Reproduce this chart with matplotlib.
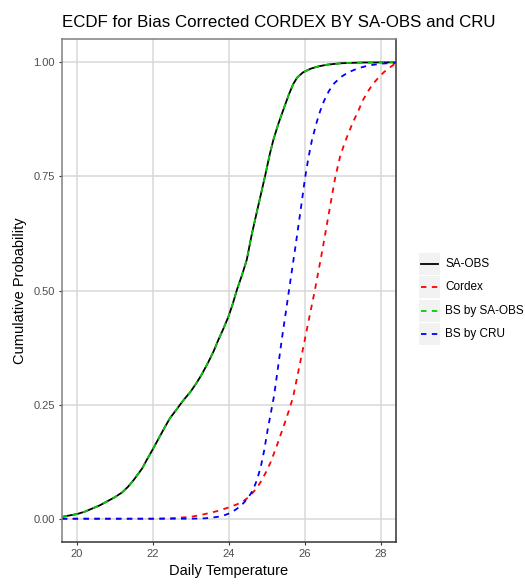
import matplotlib
matplotlib.use("Agg")
import matplotlib.pyplot as plt
from matplotlib.lines import Line2D
from matplotlib.patches import Rectangle

plt.rcParams['font.family'] = ['Liberation Sans', 'DejaVu Sans']

# data (daily temperature vs cumulative probability)
sa_obs_x = [19.61, 19.8, 20.0, 20.2, 20.4, 20.6, 20.8, 21.0, 21.2, 21.35,
            21.5, 21.72, 21.85, 22.0, 22.15, 22.3, 22.45, 22.64, 22.8, 23.0,
            23.17, 23.3, 23.46, 23.6, 23.72, 23.85, 23.99, 24.1, 24.21,
            24.35, 24.47, 24.6, 24.73, 24.84, 24.95, 25.08, 25.17, 25.3,
            25.45, 25.58, 25.69, 25.8, 25.95, 26.15, 26.35, 26.6, 26.96,
            27.5, 28.39]
sa_obs_p = [0.004, 0.007, 0.010, 0.015, 0.022, 0.029, 0.038, 0.047, 0.058,
            0.070, 0.085, 0.110, 0.130, 0.152, 0.175, 0.198, 0.220, 0.241,
            0.259, 0.279, 0.300, 0.318, 0.343, 0.367, 0.391, 0.415, 0.443,
            0.470, 0.501, 0.535, 0.567, 0.622, 0.670, 0.710, 0.750, 0.800,
            0.830, 0.865, 0.900, 0.930, 0.952, 0.967, 0.978, 0.986, 0.991,
            0.995, 0.998, 0.9995, 1.0]

# bias corrected by SA-OBS sits right on top of the observations
bs_sa_obs_x = list(sa_obs_x)
bs_sa_obs_p = list(sa_obs_p)

cordex_x = [19.61, 22.0, 22.5, 22.99, 23.25, 23.52, 23.75, 23.97, 24.2,
            24.37, 24.5, 24.63, 24.74, 24.84, 24.97, 25.1, 25.24, 25.37,
            25.5, 25.61, 25.69, 25.82, 25.96, 26.1, 26.26, 26.44, 26.61,
            26.79, 26.92, 27.03, 27.14, 27.27, 27.4, 27.53, 27.67, 27.8,
            27.94, 28.07, 28.2, 28.39]
cordex_p = [0.0, 0.0, 0.001, 0.004, 0.008, 0.013, 0.018, 0.024, 0.031,
            0.038, 0.046, 0.057, 0.068, 0.081, 0.101, 0.124, 0.155, 0.186,
            0.217, 0.245, 0.267, 0.320, 0.377, 0.435, 0.500, 0.580, 0.660,
            0.745, 0.792, 0.820, 0.844, 0.870, 0.893, 0.918, 0.938, 0.954,
            0.967, 0.978, 0.987, 0.998]

bs_cru_x = [19.61, 23.0, 23.4, 23.7, 23.9, 24.05, 24.2, 24.37, 24.5, 24.63,
            24.74, 24.84, 24.93, 25.02, 25.1, 25.19, 25.29, 25.39, 25.49,
            25.58, 25.66, 25.74, 25.82, 25.91, 26.0, 26.09, 26.18, 26.3,
            26.4, 26.5, 26.63, 26.77, 26.95, 27.14, 27.4, 27.67, 28.0, 28.39]
bs_cru_p = [0.0, 0.0, 0.001, 0.004, 0.008, 0.013, 0.021, 0.033, 0.045,
            0.062, 0.085, 0.114, 0.150, 0.195, 0.230, 0.270, 0.330, 0.392,
            0.448, 0.500, 0.545, 0.590, 0.637, 0.690, 0.745, 0.790, 0.828,
            0.866, 0.893, 0.915, 0.937, 0.954, 0.968, 0.978, 0.987, 0.993,
            0.997, 0.999]

series_labels = ['SA-OBS', 'Cordex', 'BS by SA-OBS', 'BS by CRU']
series_colors = ['black', '#FF0000', '#00CD00', '#0000FF']
series_styles = ['-', (0, (3, 3)), (0, (3, 3)), (0, (3, 3))]
series_x = [sa_obs_x, cordex_x, bs_sa_obs_x, bs_cru_x]
series_p = [sa_obs_p, cordex_p, bs_sa_obs_p, bs_cru_p]

x_ticks = [20, 22, 24, 26, 28]
y_ticks = [0.0, 0.25, 0.5, 0.75, 1.0]

W, H = 525, 584
fig = plt.figure(figsize=(W / 100, H / 100), dpi=100)
ax = fig.add_axes([0.1181, 0.0724, 0.7537 - 0.1181, 0.9327 - 0.0724])

for xs, ps, col, ls in zip(series_x, series_p, series_colors, series_styles):
    ax.plot(xs, ps, color=col, linestyle=ls, linewidth=1.3)

ax.set_xlim(19.614, 28.386)
ax.set_ylim(-0.0504, 1.0504)
ax.set_xticks(x_ticks)
ax.set_xticklabels([str(t) for t in x_ticks])
ax.set_yticks(y_ticks)
ax.set_yticklabels([f"{t:.2f}" for t in y_ticks])

ax.grid(True, color='#D9D9D9', linewidth=1.1)
ax.set_axisbelow(True)
ax.tick_params(colors='#333333', labelcolor='#4D4D4D', labelsize=8,
               length=2.5, width=0.8, pad=2.5)
for side in ['right', 'bottom']:
    ax.spines[side].set_color('#333333')
    ax.spines[side].set_linewidth(1.1)
for side in ['left', 'top']:
    ax.spines[side].set_color('#808080')
    ax.spines[side].set_linewidth(1.1)

ax.set_xlabel('Daily Temperature', fontsize=10.5, labelpad=4)
ax.set_ylabel('Cumulative Probability', fontsize=10.5, labelpad=4.5)

fig.text(0.1181, 1 - 27 / H, 'ECDF for Bias Corrected CORDEX BY SA-OBS and CRU',
         fontsize=12.2, ha='left', va='baseline')

# ggplot-style legend: grey key box, line sample, label
key_left, key_w, key_h = 419, 21, 22
row_top, row_step = 264, 23.3
for i, (lab, col, ls) in enumerate(zip(series_labels, series_colors, series_styles)):
    yc = row_top + i * row_step
    fig.add_artist(Rectangle((key_left / W, 1 - (yc + key_h / 2) / H),
                             key_w / W, key_h / H, transform=fig.transFigure,
                             facecolor='#F2F2F2', edgecolor='none'))
    fig.add_artist(Line2D([(key_left + 2) / W, (key_left + 19) / W],
                          [1 - yc / H, 1 - yc / H], transform=fig.transFigure,
                          color=col, linestyle=ls, linewidth=1.3))
    fig.text((key_left + 26) / W, 1 - yc / H, lab, fontsize=8.5,
             ha='left', va='center')

fig.savefig('out.png', dpi=100)
